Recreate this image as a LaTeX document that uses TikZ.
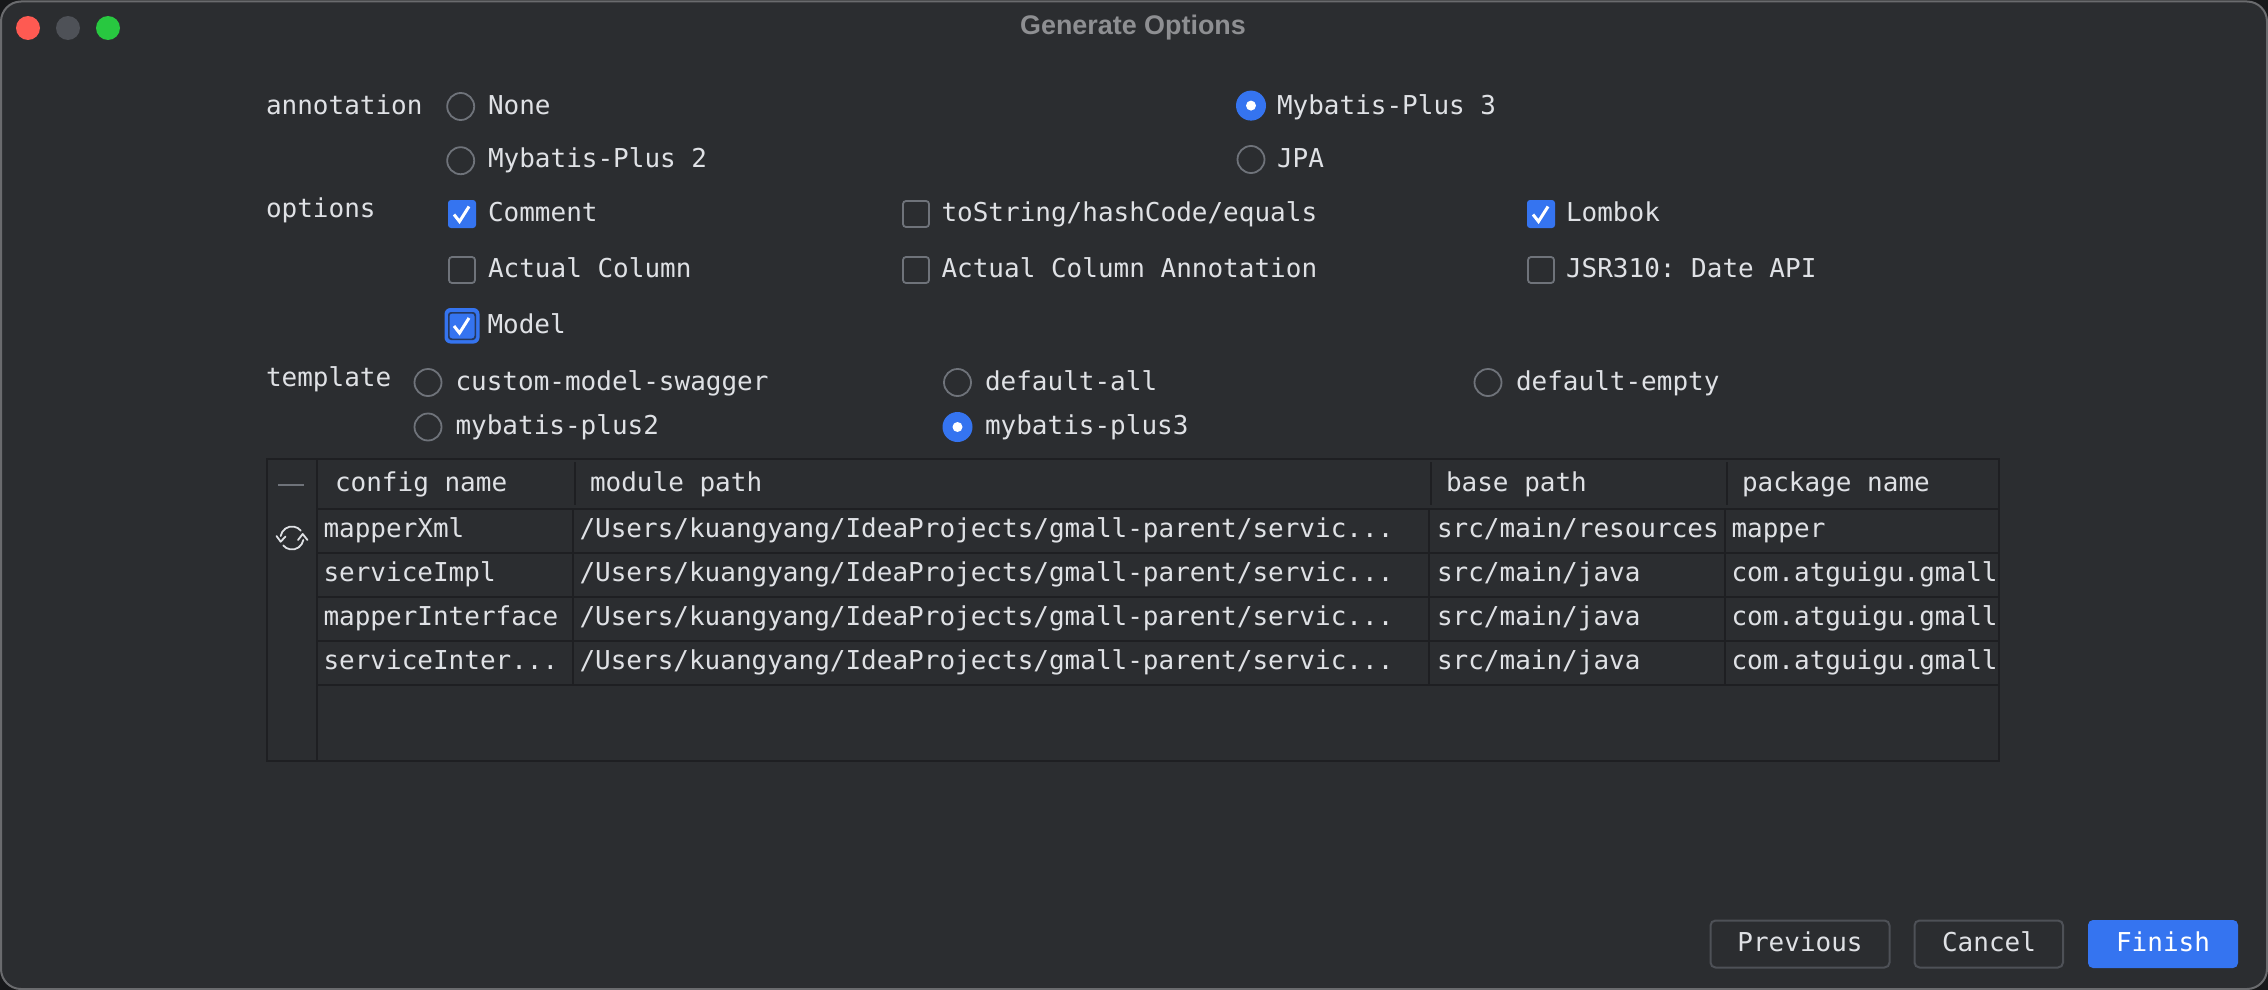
\documentclass[tikz,border=0pt]{standalone}
\usepackage{fontspec}
\setmonofont{DejaVu Sans Mono}
\newfontfamily\titlefont{Liberation Sans}
\definecolor{outer}{HTML}{17181A}
\definecolor{winbg}{HTML}{2B2D30}
\definecolor{linecol}{HTML}{1E1F22}
\definecolor{txt}{HTML}{DFE1E5}
\definecolor{accent}{HTML}{3574F0}
\definecolor{ctrl}{HTML}{6F737A}
\definecolor{btnedge}{HTML}{4E5157}
\definecolor{ttl}{HTML}{8E8F92}
\definecolor{winedge}{HTML}{6A6B6E}
\definecolor{lightred}{HTML}{FE5A52}
\definecolor{lightgreen}{HTML}{28C840}
\tikzset{x=1pt,y=-1pt,
 lbl/.style={font=\fontsize{26}{30}\selectfont\ttfamily,text=txt,anchor=base west,inner sep=0pt,outer sep=0pt},
 radiooff/.style={circle,draw=ctrl,line width=1.8pt,fill=winbg,minimum size=27pt,inner sep=0pt},
 radioon/.style={circle,fill=accent,minimum size=30pt,inner sep=0pt},
 radiodot/.style={circle,fill=white,minimum size=10pt,inner sep=0pt},
 boxoff/.style={draw=ctrl,line width=1.8pt,rounded corners=3pt,fill=winbg},
 boxon/.style={fill=accent,rounded corners=3pt},
 tick/.style={draw=white,line width=3pt},
 grid/.style={draw=linecol,line width=2pt},
 btn/.style={draw=btnedge,line width=2pt,rounded corners=5pt,fill=winbg},
 btntext/.style={font=\fontsize{26}{30}\selectfont\ttfamily,text=txt,anchor=base,inner sep=0pt},
 light/.style={circle,minimum size=24pt,inner sep=0pt},
 iconline/.style={draw=txt,line width=1.8pt,line cap=round,line join=round}}
\newcommand{\tablerow}[4]{%
 \node[lbl] at (323.5,#1) {#2};
 \node[lbl] at (579.5,#1) {/Users/kuangyang/IdeaProjects/gmall-parent/servic...};
 \node[lbl] at (1437,#1) {#3};
 \node[lbl] at (1731.5,#1) {#4};}
\begin{document}
\begin{tikzpicture}
\useasboundingbox (0,0) rectangle (2268,990);
\fill[outer] (0,0) rectangle (2268,990);
\draw[fill=winbg,draw=winedge,line width=2pt,rounded corners=20pt] (1,1.5) rectangle (2267,989);
% traffic lights
\node[light,fill=lightred] (close) at (28,28) {};
\node[light,fill=btnedge] (min) at (68,28) {};
\node[light,fill=lightgreen] (max) at (108,28) {};
\node[font=\fontsize{26.9}{30}\selectfont\titlefont\bfseries,text=ttl,inner sep=0pt] (title) at (1133,28) {Generate Options};
% left labels
\node[lbl] (annotation) at (266,114) {annotation};
\node[lbl] (options) at (266,217) {options};
\node[lbl] (template) at (266,386) {template};
% annotation radios
\node[radiooff] (r1) at (460.7,106.5) {};
\node[lbl] at (488,114) {None};
\node[radioon] (r2) at (1251,105.6) {}; \node[radiodot] at (r2) {};
\node[lbl] at (1277,114) {Mybatis-Plus 3};
\node[radiooff] (r3) at (460.7,160.7) {};
\node[lbl] at (488,167.5) {Mybatis-Plus 2};
\node[radiooff] (r4) at (1251,159.5) {};
\node[lbl] at (1277,167.5) {JPA};
% option checks
\fill[boxon] (448,200) rectangle (476,228);
\draw[tick] (454,214.5) -- (459.5,221.5) -- (469,206.5);
\node[lbl] at (488,221.5) {Comment};
\draw[boxoff] (903,201) rectangle (929,227);
\node[lbl] at (941.5,221.5) {toString/hashCode/equals};
\fill[boxon] (1527,200) rectangle (1555,228);
\draw[tick] (1533,214.5) -- (1538.5,221.5) -- (1548,206.5);
\node[lbl] at (1566,221.5) {Lombok};
\draw[boxoff] (449,257) rectangle (475,283);
\node[lbl] at (488,277.7) {Actual Column};
\draw[boxoff] (903,257) rectangle (929,283);
\node[lbl] at (941.5,277.7) {Actual Column Annotation};
\draw[boxoff] (1528,257) rectangle (1554,283);
\node[lbl] at (1566,277.7) {JSR310: Date API};
\fill[accent,rounded corners=6pt] (444.5,308) rectangle (479.5,343.5);
\fill[linecol!70!accent,rounded corners=3pt] (448,312) rectangle (476,340);
\fill[boxon] (449.5,313.5) rectangle (474.5,338.5);
\draw[tick] (454,326) -- (459.5,333) -- (469,318);
\node[lbl] at (487.5,333) {Model};
% template radios
\node[radiooff] (t1) at (428,382.5) {};
\node[lbl] at (455.5,390.5) {custom-model-swagger};
\node[radiooff] (t2) at (957.5,382.5) {};
\node[lbl] at (985,390.5) {default-all};
\node[radiooff] (t3) at (1488,382.5) {};
\node[lbl] at (1516,390.5) {default-empty};
\node[radiooff] (t4) at (428,427) {};
\node[lbl] at (455.5,434.5) {mybatis-plus2};
\node[radioon] (t5) at (957.5,427) {}; \node[radiodot] at (t5) {};
\node[lbl] at (985,434.5) {mybatis-plus3};
% table
\draw[grid] (267,459) rectangle (1999,761);
\draw[grid] (317,459) -- (317,761);
\foreach \yy in {509,553,597,641,685} \draw[grid] (317,\yy) -- (1999,\yy);
\foreach \xx in {575,1431,1727} \draw[grid] (\xx,462) -- (\xx,505);
\foreach \xx in {573,1429,1725} \draw[grid] (\xx,509) -- (\xx,685);
\node[lbl] at (335,491.5) {config name};
\node[lbl] at (590,491.5) {module path};
\node[lbl] at (1446,491.5) {base path};
\node[lbl] at (1742,491.5) {package name};
\tablerow{537}{mapperXml}{src/main/resources}{mapper}
\tablerow{581.5}{serviceImpl}{src/main/java}{com.atguigu.gmall}
\tablerow{625.5}{mapperInterface}{src/main/java}{com.atguigu.gmall}
\tablerow{669.5}{serviceInter...}{src/main/java}{com.atguigu.gmall}
% toolbar icons
\draw[ctrl,line width=2pt] (278,484.7) -- (304,484.7);
\coordinate (ic) at (292,538);
\draw[iconline] (ic) ++(-170:11.5) arc (-170:-40:11.5);
\draw[iconline] (ic) ++(10:11.5) arc (10:140:11.5);
\draw[iconline] (276.5,536) -- (280.7,541.7) -- (285.5,536.5);
\draw[iconline] (298,540) -- (302.7,534) -- (307.5,540);
% buttons
\draw[btn] (1710.5,920.5) rectangle (1889.5,967.5);
\node[btntext] (prev) at (1800,951.5) {Previous};
\draw[btn] (1914.5,920.5) rectangle (2063,967.5);
\node[btntext] (cancel) at (1989,951.5) {Cancel};
\fill[accent,rounded corners=5pt] (2088,920) rectangle (2238,968);
\node[btntext,text=white] (finish) at (2163,951.5) {Finish};
\end{tikzpicture}
\end{document}
